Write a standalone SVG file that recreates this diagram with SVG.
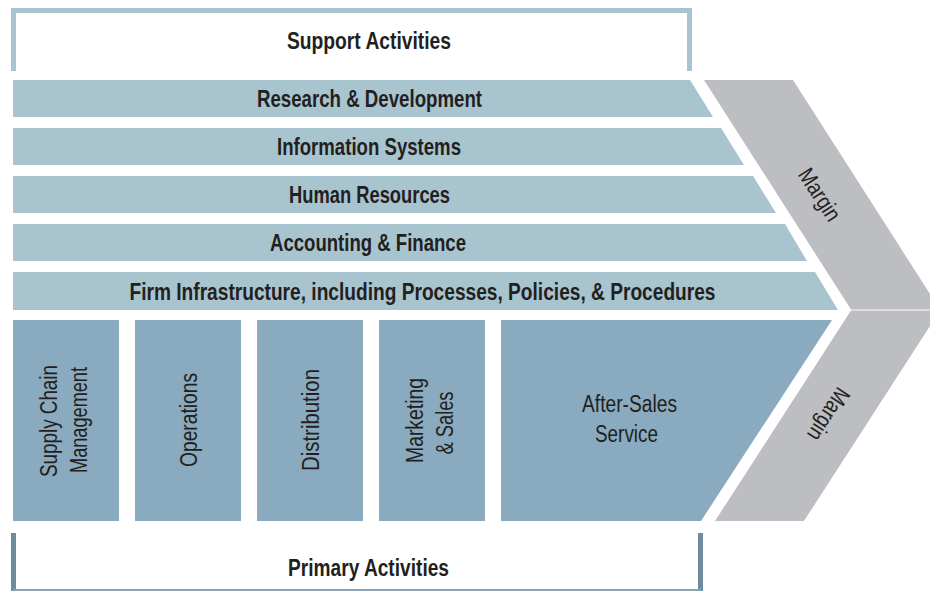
<svg xmlns="http://www.w3.org/2000/svg" width="930" height="591" viewBox="0 0 930 591">
<style>
.sup{fill:#a7c4cf}
.pri{fill:#8aaabf}
.mar{fill:#bdbec2}
.b{font-family:"Liberation Sans",Arial,sans-serif;font-weight:bold;font-size:23px;fill:#231f20;text-anchor:middle}
.r{font-family:"Liberation Sans",Arial,sans-serif;font-size:23px;fill:#231f20;text-anchor:middle}
</style>
<rect width="930" height="591" fill="#ffffff"/>
<g id="support-frame">
<path d="M13.5,71 V10.5 H689.5 V71" fill="none" stroke="#a7c4cf" stroke-width="5"/>
<text class="b" x="369" y="49" textLength="164" lengthAdjust="spacingAndGlyphs">Support Activities</text>
</g>
<g id="margin-top">
<polygon class="mar" points="704,80 793,80 940,309.5 851,309.5"/>
<text class="r" transform="translate(819,195) rotate(57)" y="7" textLength="58" lengthAdjust="spacingAndGlyphs">Margin</text>
</g>
<g id="margin-bottom">
<polygon class="mar" points="851,310.5 940,310.5 804,521 715,521"/>
<text class="r" transform="translate(828,414) rotate(123)" y="7" textLength="58" lengthAdjust="spacingAndGlyphs">Margin</text>
</g>
<g id="rd">
<polygon class="sup" points="13,80 690,80 713,117 13,117"/>
<text class="b" x="369.5" y="107" textLength="225" lengthAdjust="spacingAndGlyphs">Research &amp; Development</text>
</g>
<g id="is">
<polygon class="sup" points="13,128 721,128 744,165 13,165"/>
<text class="b" x="369" y="155" textLength="184" lengthAdjust="spacingAndGlyphs">Information Systems</text>
</g>
<g id="hr">
<polygon class="sup" points="13,176 753,176 776,213 13,213"/>
<text class="b" x="369.5" y="203" textLength="161" lengthAdjust="spacingAndGlyphs">Human Resources</text>
</g>
<g id="af">
<polygon class="sup" points="13,224 785,224 807,261 13,261"/>
<text class="b" x="368" y="251" textLength="196" lengthAdjust="spacingAndGlyphs">Accounting &amp; Finance</text>
</g>
<g id="fi">
<polygon class="sup" points="13,272 815,272 838,310 13,310"/>
<text class="b" x="422.5" y="300" textLength="586" lengthAdjust="spacingAndGlyphs">Firm Infrastructure, including Processes, Policies, &amp; Procedures</text>
</g>
<g id="scm">
<rect class="pri" x="13" y="320" width="106" height="201"/>
<text class="r" transform="translate(57,421) rotate(-90)" textLength="112" lengthAdjust="spacingAndGlyphs">Supply Chain</text>
<text class="r" transform="translate(87,420) rotate(-90)" textLength="106" lengthAdjust="spacingAndGlyphs">Management</text>
</g>
<g id="ops">
<rect class="pri" x="135" y="320" width="106" height="201"/>
<text class="r" transform="translate(197,420) rotate(-90)" textLength="94" lengthAdjust="spacingAndGlyphs">Operations</text>
</g>
<g id="dist">
<rect class="pri" x="257" y="320" width="106" height="201"/>
<text class="r" transform="translate(319,420) rotate(-90)" textLength="102" lengthAdjust="spacingAndGlyphs">Distribution</text>
</g>
<g id="ms">
<rect class="pri" x="379" y="320" width="106" height="201"/>
<text class="r" transform="translate(423,420.5) rotate(-90)" textLength="85" lengthAdjust="spacingAndGlyphs">Marketing</text>
<text class="r" transform="translate(453,423) rotate(-90)" textLength="63" lengthAdjust="spacingAndGlyphs">&amp; Sales</text>
</g>
<g id="ass">
<polygon class="pri" points="501,320 832,320 701,521 501,521"/>
<text class="r" x="629.5" y="412" textLength="95" lengthAdjust="spacingAndGlyphs">After-Sales</text>
<text class="r" x="626.5" y="442" textLength="63" lengthAdjust="spacingAndGlyphs">Service</text>
</g>
<g id="primary-frame">
<path d="M13.5,533 V591 M700.5,533 V591" fill="none" stroke="#6f8c9e" stroke-width="5"/>
<line x1="13" y1="590" x2="701" y2="590" stroke="#8aa3b2" stroke-width="2"/>
<text class="b" x="368.5" y="576" textLength="161" lengthAdjust="spacingAndGlyphs">Primary Activities</text>
</g>
<g id="connectors"></g>
</svg>
